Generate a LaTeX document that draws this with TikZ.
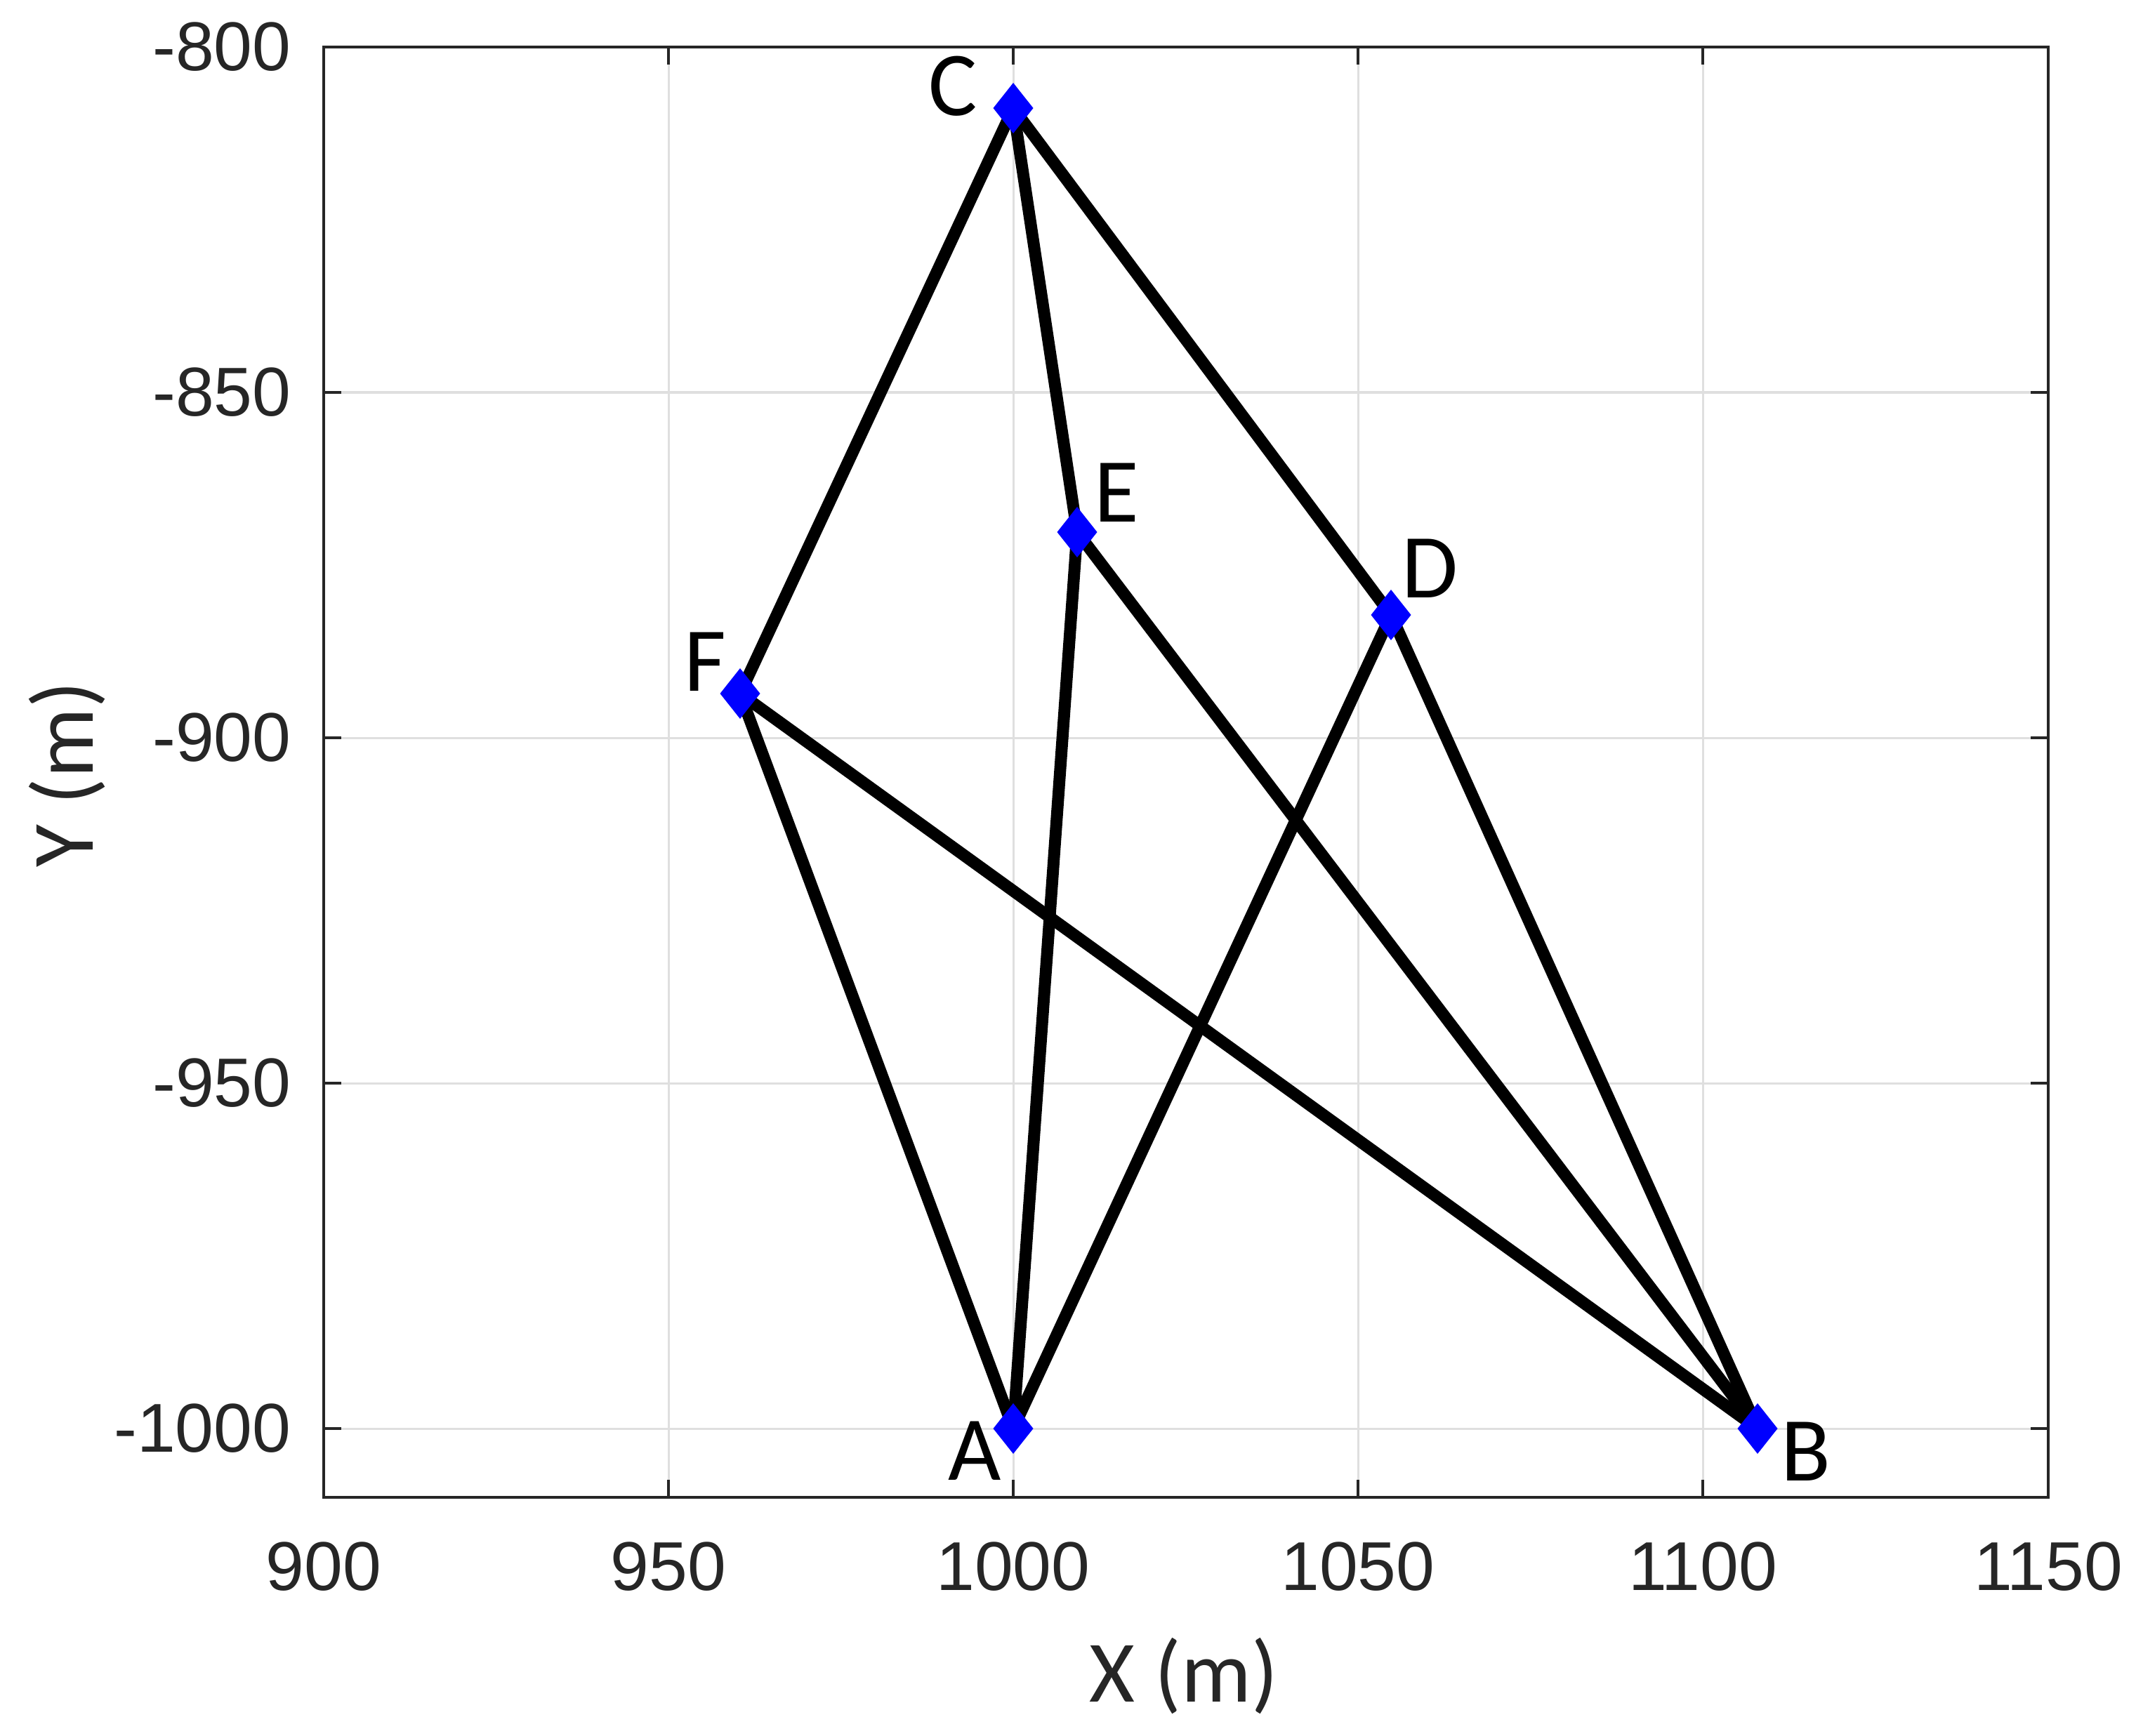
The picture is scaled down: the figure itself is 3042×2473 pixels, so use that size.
\documentclass[tikz,border=0pt]{standalone}
\usepackage{fontspec}
\setmainfont{Liberation Sans}
\newfontfamily\calib{Carlito}
\definecolor{axcol}{RGB}{38,38,38}
\definecolor{gridcol}{RGB}{223,223,223}
\begin{document}
\begin{tikzpicture}[x=0.01cm,y=-0.01cm,
 gridline/.style={draw=gridcol, line width=0.03cm},
 axline/.style={draw=axcol, line width=0.045cm},
 ticklab/.style={text=axcol, font=\fontsize{28}{30}\selectfont, inner sep=0},
 axlab/.style={text=axcol, font=\calib\fontsize{35.5}{40}\selectfont, inner sep=0},
 ptlab/.style={text=black, font=\calib\fontsize{37}{40}\selectfont, inner sep=0},
 edge/.style={draw=black, line width=0.17cm, line cap=round, line join=round},
 vtx/.style={fill=blue}]
\useasboundingbox (0,0) rectangle (3042,2473);
\fill[white] (0,0) rectangle (3042,2473);
% grid
\foreach \x in {952,1443,1934,2425} \draw[gridline] (\x,67) -- (\x,2133);
\foreach \y in {559,1051,1543,2035} \draw[gridline] (461,\y) -- (2917,\y);
% ticks
\foreach \x in {952,1443,1934,2425} {
  \draw[axline] (\x,2133) -- (\x,2108);
  \draw[axline] (\x,67) -- (\x,92);
}
\foreach \y in {559,1051,1543,2035} {
  \draw[axline] (461,\y) -- (486,\y);
  \draw[axline] (2917,\y) -- (2892,\y);
}
% box
\draw[axline] (461,67) rectangle (2917,2133);
% tick labels
\foreach \x/\t in {461/900,952/950,1443/1000,1934/1050,2425/1100,2917/1150}
  \node[ticklab] (xt\t) at (\x,2232) {\t};
\foreach \y/\t in {67/-800,559/-850,1051/-900,1543/-950,2035/-1000}
  \node[ticklab, anchor=east] (yt\t) at (415,\y) {\t};
% axis labels
\node[axlab] (xlab) at (1686,2387) {X (m)};
\node[axlab, rotate=90] (ylab) at (95,1103) {Y (m)};
% points
\coordinate (C) at (1443,154);
\coordinate (E) at (1534,758);
\coordinate (D) at (1981,876);
\coordinate (F) at (1054,988);
\coordinate (A) at (1443,2035);
\coordinate (B) at (2503,2035);
% edges
\draw[edge] (C) -- (F);
\draw[edge] (C) -- (E);
\draw[edge] (C) -- (D);
\draw[edge] (E) -- (A);
\draw[edge] (E) -- (B);
\draw[edge] (D) -- (A);
\draw[edge] (D) -- (B);
\draw[edge] (F) -- (A);
\draw[edge] (F) -- (B);
% markers
\foreach \p in {A,B,C,D,E,F}
  \fill[vtx] (\p) ++(0,-36) -- ++(28.5,36) -- ++(-28.5,36) -- ++(-28.5,-36) -- cycle;
% point labels
\node[ptlab] (lC) at (1357,123) {C};
\node[ptlab] (lE) at (1590,702) {E};
\node[ptlab] (lD) at (2037,810) {D};
\node[ptlab] (lF) at (1004,943) {F};
\node[ptlab] (lA) at (1388,2067) {A};
\node[ptlab] (lB) at (2572,2068) {B};
\end{tikzpicture}
\end{document}
